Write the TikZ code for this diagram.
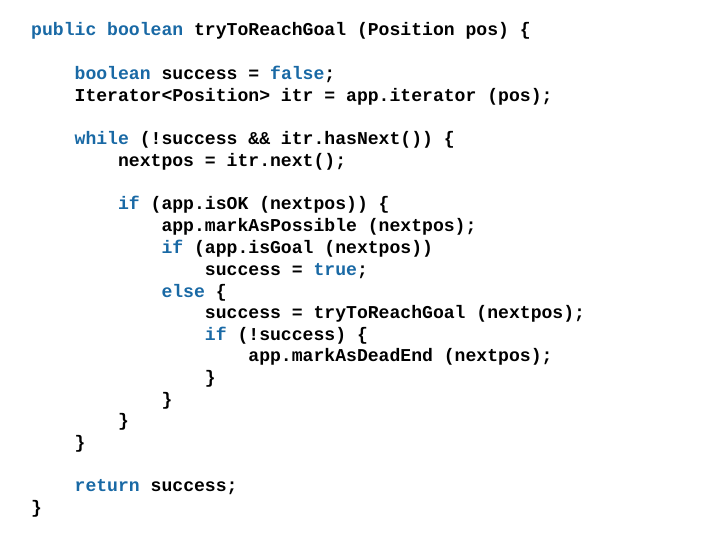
\documentclass[tikz,border=0pt]{standalone}
\usepackage{fontspec}
\setmonofont{Liberation Mono}
\definecolor{kwblue}{RGB}{25,105,165}
\newcommand{\kw}[1]{\textcolor{kwblue}{#1}}
\begin{document}
\begin{tikzpicture}[x=1pt,y=1pt,
  code/.style={anchor=base west,inner sep=0pt,font=\ttfamily\bfseries\fontsize{18.1}{20}\selectfont}]
\useasboundingbox (0,0) rectangle (720,-540);
\fill[white] (0,0) rectangle (720,-540);
\def\cw{10.86}
\node[code] (l1) at (31,-36) {\kw{public} \kw{boolean} tryToReachGoal (Position pos) \{};
\node[code] (l2) at (31+4*\cw,-80) {\kw{boolean} success = \kw{false};};
\node[code] (l3) at (31+4*\cw,-102) {Iterator<Position> itr = app.iterator (pos);};
\node[code] (l4) at (31+4*\cw,-145) {\kw{while} (!success \&\& itr.hasNext()) \{};
\node[code] (l5) at (31+8*\cw,-167) {nextpos = itr.next();};
\node[code] (l6) at (31+8*\cw,-210) {\kw{if} (app.isOK (nextpos)) \{};
\node[code] (l7) at (31+12*\cw,-232) {app.markAsPossible (nextpos);};
\node[code] (l8) at (31+12*\cw,-253) {\kw{if} (app.isGoal (nextpos))};
\node[code] (l9) at (31+16*\cw,-275) {success = \kw{true};};
\node[code] (l10) at (31+12*\cw,-297) {\kw{else} \{};
\node[code] (l11) at (31+16*\cw,-318) {success = tryToReachGoal (nextpos);};
\node[code] (l12) at (31+16*\cw,-340) {\kw{if} (!success) \{};
\node[code] (l13) at (31+20*\cw,-361) {app.markAsDeadEnd (nextpos);};
\node[code] (l14) at (31+16*\cw,-383) {\}};
\node[code] (l15) at (31+12*\cw,-405) {\}};
\node[code] (l16) at (31+8*\cw,-426) {\}};
\node[code] (l17) at (31+4*\cw,-448) {\}};
\node[code] (l18) at (31+4*\cw,-491) {\kw{return} success;};
\node[code] (l19) at (31,-513) {\}};
\end{tikzpicture}
\end{document}
